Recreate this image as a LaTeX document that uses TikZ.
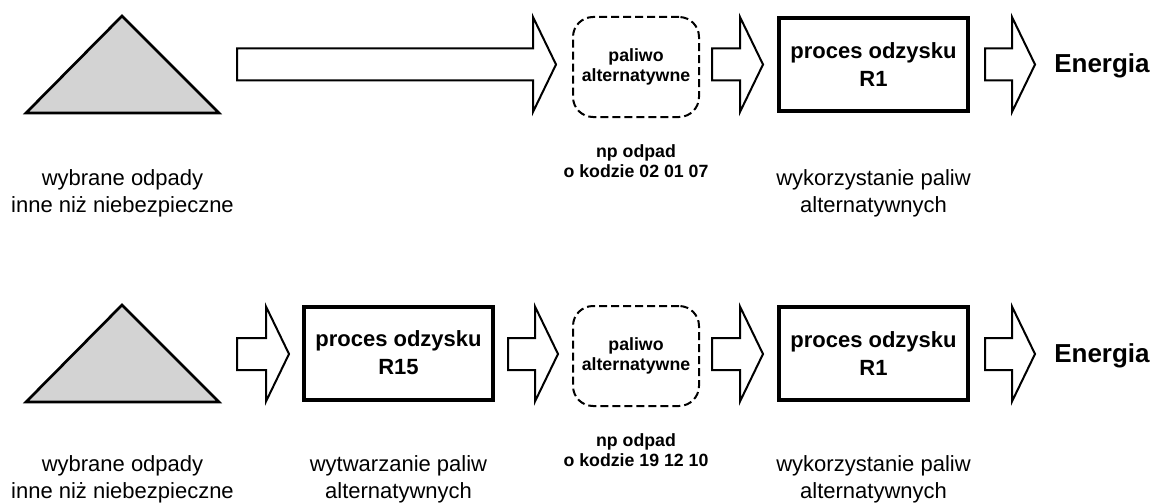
\documentclass[tikz,border=0pt]{standalone}
\usepackage{fontspec}
\setmainfont{Liberation Sans}
\usetikzlibrary{calc}
\definecolor{trigray}{RGB}{211,211,211}
\tikzset{
  tri/.style={draw, fill=trigray, line width=2pt, line join=miter},
  barrow/.style={draw, fill=white, line width=1.5pt, line join=miter},
  procbox/.style={draw, line width=3pt, minimum width=141.75pt, minimum height=69.75pt,
    align=center, inner sep=0pt, font=\fontsize{16.5}{21}\selectfont\bfseries},
  altbox/.style={draw, line width=1.5pt, dash pattern=on 6pt off 3pt, rounded corners=15pt,
    minimum width=94.5pt, minimum height=75pt, align=center, inner sep=0pt,
    font=\fontsize{13.3}{15}\selectfont\bfseries},
  captext/.style={align=center, inner sep=0pt, font=\fontsize{16.5}{20.25}\selectfont},
  notetext/.style={align=center, inner sep=0pt, font=\fontsize{13.3}{15}\selectfont\bfseries},
  energytext/.style={anchor=west, inner sep=0pt, font=\fontsize{19.5}{23}\selectfont\bfseries}
}
\newcommand\blockarrow[3]{%
  \draw[barrow] let \p1=#1, \p2=#2, \p3=#3 in
    (\x1,\y3+12pt) -- (\x2-17.25pt,\y3+12pt) -- (\x2-17.25pt,\y3+35.6pt) -- (\x2,\y3)
    -- (\x2-17.25pt,\y3-35.6pt) -- (\x2-17.25pt,\y3-12pt) -- (\x1,\y3-12pt) -- cycle;}
\begin{document}
\begin{tikzpicture}[x=0.75pt,y=-0.75pt]
\useasboundingbox (0,0) rectangle (1152,503);
% ---------- row 1 ----------
\coordinate (row1) at (0,64.5);
\coordinate (tri1l) at (26,113);
\coordinate (tri1a) at (122,16);
\coordinate (tri1r) at (219,113);
\draw[tri] (tri1l) -- (tri1a) -- (tri1r) -- cycle;
\node[altbox] (alt1) at (636,67) {paliwo\\alternatywne};
\node[procbox] (rone1) at (873.5,64.5) {proces odzysku\\R1};
\blockarrow{($(tri1r)+(18,0)$)}{($(alt1.west)+(-16,0)$)}{(row1)}
\blockarrow{($(alt1.east)+(12,0)$)}{($(rone1.west)+(-14,0)$)}{(row1)}
\blockarrow{($(rone1.east)+(15,0)$)}{($(rone1.east)+(65,0)$)}{(row1)}
\coordinate (tip1) at ($(rone1.east)+(65,0)$);
\node[energytext] (en1) at ($(tip1 |- row1)+(19,1.5)$) {Energia};
\node[captext] (cap1a) at (122.5,193.5) {wybrane odpady\\inne niż niebezpieczne};
\node[notetext] (note1) at (636,161.5) {np odpad\\o kodzie 02 01 07};
\node[captext] (cap1c) at (873.5,193.5) {wykorzystanie paliw\\alternatywnych};
% ---------- row 2 ----------
\coordinate (row2) at (0,354);
\coordinate (tri2l) at (26,402);
\coordinate (tri2a) at (122,305);
\coordinate (tri2r) at (219,402);
\draw[tri] (tri2l) -- (tri2a) -- (tri2r) -- cycle;
\node[procbox] (rfif2) at (398.5,353) {proces odzysku\\R15};
\node[altbox] (alt2) at (636,356) {paliwo\\alternatywne};
\node[procbox] (rone2) at (873.5,353.5) {proces odzysku\\R1};
\blockarrow{($(tri2r)+(18,0)$)}{($(rfif2.west)+(-13,0)$)}{(row2)}
\blockarrow{($(rfif2.east)+(13,0)$)}{($(alt2.west)+(-14,0)$)}{(row2)}
\blockarrow{($(alt2.east)+(12,0)$)}{($(rone2.west)+(-14,0)$)}{(row2)}
\blockarrow{($(rone2.east)+(15,0)$)}{($(rone2.east)+(65,0)$)}{(row2)}
\coordinate (tip2) at ($(rone2.east)+(65,0)$);
\node[energytext] (en2) at ($(tip2 |- row2)+(19,1.5)$) {Energia};
\node[captext] (cap2a) at (122.5,479.5) {wybrane odpady\\inne niż niebezpieczne};
\node[captext] (cap2b) at (398.5,479.5) {wytwarzanie paliw\\alternatywnych};
\node[notetext] (note2) at (636,450.5) {np odpad\\o kodzie 19 12 10};
\node[captext] (cap2c) at (873.5,479.5) {wykorzystanie paliw\\alternatywnych};
\end{tikzpicture}
\end{document}
